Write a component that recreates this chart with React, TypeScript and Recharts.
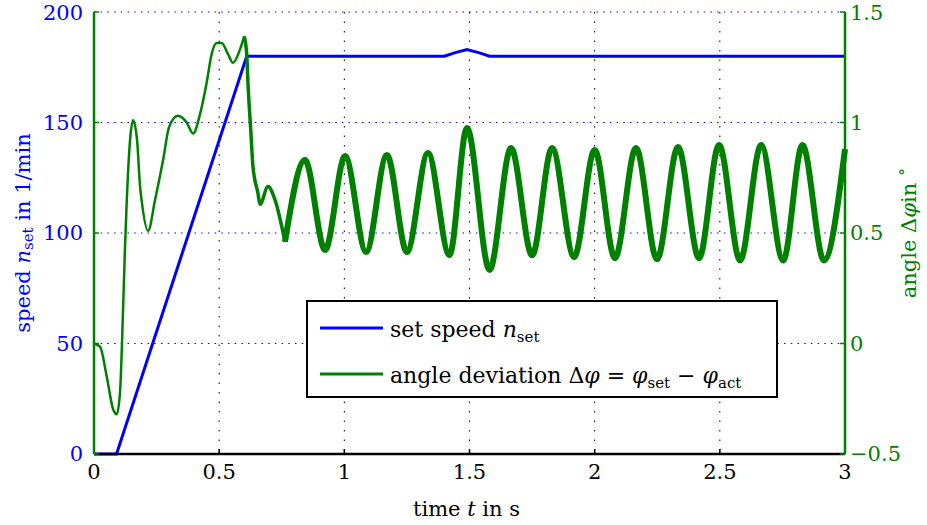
import { LineChart, Line, XAxis, YAxis, CartesianGrid, Label } from "recharts";

// set speed n_set in 1/min
const speedT = [0, 0.09, 0.61, 1.4, 1.44, 1.49, 1.54, 1.58, 3];
const speedN = [0, 0, 180, 180, 181.5, 183, 181.5, 180, 180];

// angle deviation in degrees, split where the trace gets thicker
const startT = [0, 0.024, 0.051, 0.077, 0.091, 0.104, 0.116, 0.124, 0.13, 0.144, 0.156, 0.172, 0.184, 0.19, 0.216, 0.244, 0.276, 0.3, 0.335, 0.37, 0.396, 0.424, 0.45, 0.47, 0.49, 0.51, 0.535, 0.555, 0.583, 0.6];
const startV = [0, -0.014, -0.15, -0.3, -0.32, -0.22, 0.15, 0.44, 0.62, 0.92, 1.01, 0.92, 0.71, 0.65, 0.51, 0.65, 0.83, 0.98, 1.03, 1.0, 0.95, 1.04, 1.18, 1.31, 1.36, 1.36, 1.31, 1.27, 1.33, 1.39];

const settleT = [0.6, 0.61, 0.615, 0.627, 0.635, 0.655, 0.663, 0.695, 0.723, 0.763];
const settleV = [1.39, 1.31, 1.18, 0.95, 0.8, 0.68, 0.63, 0.71, 0.65, 0.46];

const steadyT = [0.763, 0.843, 0.923, 1.003, 1.087, 1.17, 1.25, 1.334, 1.42, 1.49, 1.58, 1.666, 1.75, 1.83, 1.918, 2.0, 2.081, 2.165, 2.249, 2.333, 2.417, 2.497, 2.581, 2.665, 2.753, 2.83, 2.916, 3.0];
const steadyV = [0.46, 0.83, 0.423, 0.848, 0.414, 0.853, 0.414, 0.862, 0.4, 0.975, 0.333, 0.885, 0.399, 0.885, 0.391, 0.876, 0.386, 0.885, 0.381, 0.889, 0.386, 0.898, 0.376, 0.898, 0.376, 0.898, 0.376, 0.88];

const timeTicks = [0, 0.5, 1, 1.5, 2, 2.5, 3];
const speedTicks = [0, 50, 100, 150, 200];
const angleTicks = [-0.5, 0, 0.5, 1, 1.5];

const BLUE = "#0000ff";
const GREEN = "#008000";
const FONT = "'DejaVu Serif', serif";

const toRows = (ts: number[], vs: number[]) => ts.map((t, i) => ({ t, v: vs[i] }));

const speedData = toRows(speedT, speedN);
const startData = toRows(startT, startV);
const settleData = toRows(settleT, settleV);
const steadyData = toRows(steadyT, steadyV);

const fmt = (v: number) => (v < 0 ? "\u2212" + Math.abs(v) : String(v));

function LeftTitle(props: any) {
  const vb = props.viewBox;
  const x = vb.x + 24;
  const y = vb.y + vb.height / 2;
  return (
    <text x={x} y={y} transform={`rotate(-90 ${x} ${y})`} textAnchor="middle" dominantBaseline="middle" fill={BLUE} fontFamily={FONT} fontSize={21}>
      speed <tspan fontStyle="italic">n</tspan>
      <tspan fontSize={15} dy={5}>set</tspan>
      <tspan dy={-5}> in 1/min</tspan>
    </text>
  );
}

function RightTitle(props: any) {
  const vb = props.viewBox;
  const x = vb.x + 65;
  const y = vb.y + vb.height / 2;
  return (
    <text x={x} y={y} transform={`rotate(-90 ${x} ${y})`} textAnchor="middle" dominantBaseline="middle" fill={GREEN} fontFamily={FONT} fontSize={21}>
      angle Δ<tspan fontStyle="italic">φ</tspan>in <tspan fontSize={17} dy={-8}>∘</tspan>
    </text>
  );
}

function BottomTitle(props: any) {
  const vb = props.viewBox;
  return (
    <text x={vb.x + vb.width / 2 - 3} y={vb.y + 62} textAnchor="middle" fill="#000" fontFamily={FONT} fontSize={21}>
      time <tspan fontStyle="italic">t</tspan> in s
    </text>
  );
}

function LegendBox() {
  return (
    <svg width={472} height={98} style={{ position: "absolute", left: 306, top: 300 }}>
      <rect x={1} y={1} width={470} height={96} fill="#fff" stroke="#000" strokeWidth={2} />
      <line x1={14} x2={77} y1={28} y2={28} stroke={BLUE} strokeWidth={3} />
      <line x1={14} x2={77} y1={74} y2={74} stroke={GREEN} strokeWidth={3} />
      <text x={84} y={37} fontFamily={FONT} fontSize={22} fill="#000">
        set speed <tspan fontStyle="italic">n</tspan>
        <tspan fontSize={15} dy={5}>set</tspan>
      </text>
      <text x={84} y={83} fontFamily={FONT} fontSize={22} fill="#000">
        angle deviation Δ<tspan fontStyle="italic">φ</tspan> = <tspan fontStyle="italic">φ</tspan>
        <tspan fontSize={15} dy={5}>set</tspan>
        <tspan dy={-5}> − </tspan>
        <tspan fontStyle="italic">φ</tspan>
        <tspan fontSize={15} dy={5}>act</tspan>
      </text>
    </svg>
  );
}

export default function App() {
  return (
    <div style={{ position: "absolute", left: 0, top: 0, width: 927, height: 525, background: "#fff" }}>
      <LineChart width={927} height={525} margin={{ top: 12, right: 0, bottom: 0, left: 0 }}>
        <CartesianGrid xAxisId="bottom" yAxisId="speed" vertical={false} stroke={BLUE} strokeDasharray="1.5 5.2" />
        <CartesianGrid xAxisId="bottom" yAxisId="speed" horizontal={false} stroke="#000" strokeDasharray="1.5 8" />
        <XAxis
          xAxisId="bottom"
          type="number"
          dataKey="t"
          domain={[0, 3]}
          ticks={timeTicks}
          height={71}
          axisLine={{ stroke: "#000", strokeWidth: 2.5 }}
          tickLine={{ stroke: "#000", strokeWidth: 1.5 }}
          tickSize={-5}
          tickMargin={15}
          tick={{ fill: "#000", fontSize: 21, fontFamily: FONT }}
        >
          <Label content={BottomTitle} />
        </XAxis>
        <XAxis
          xAxisId="top"
          orientation="top"
          type="number"
          domain={[0, 3]}
          ticks={timeTicks}
          height={0}
          axisLine={{ stroke: "#000", strokeWidth: 2.5 }}
          tickLine={{ stroke: "#000", strokeWidth: 1.5 }}
          tickSize={-5}
          tick={false}
        />
        <YAxis
          yAxisId="speed"
          domain={[0, 200]}
          ticks={speedTicks}
          width={94}
          axisLine={{ stroke: GREEN, strokeWidth: 2.5 }}
          tickLine={{ stroke: GREEN, strokeWidth: 1.5 }}
          tickSize={-5}
          tickMargin={16}
          tick={{ fill: BLUE, fontSize: 21, fontFamily: FONT }}
        >
          <Label content={LeftTitle} />
        </YAxis>
        <YAxis
          yAxisId="angle"
          orientation="right"
          domain={[-0.5, 1.5]}
          ticks={angleTicks}
          tickFormatter={fmt}
          width={82}
          axisLine={{ stroke: GREEN, strokeWidth: 2.5 }}
          tickLine={{ stroke: GREEN, strokeWidth: 1.5 }}
          tickSize={-5}
          tickMargin={10}
          tick={{ fill: GREEN, fontSize: 21, fontFamily: FONT }}
        >
          <Label content={RightTitle} />
        </YAxis>
        <Line data={speedData} xAxisId="bottom" yAxisId="speed" dataKey="v" type="linear" stroke={BLUE} strokeWidth={3} dot={false} isAnimationActive={false} />
        <Line data={startData} xAxisId="bottom" yAxisId="angle" dataKey="v" type="monotone" stroke={GREEN} strokeWidth={2.5} dot={false} isAnimationActive={false} />
        <Line data={settleData} xAxisId="bottom" yAxisId="angle" dataKey="v" type="monotone" stroke={GREEN} strokeWidth={3.5} dot={false} isAnimationActive={false} />
        <Line data={steadyData} xAxisId="bottom" yAxisId="angle" dataKey="v" type="monotone" stroke={GREEN} strokeWidth={6} dot={false} isAnimationActive={false} />
      </LineChart>
      <LegendBox />
    </div>
  );
}
